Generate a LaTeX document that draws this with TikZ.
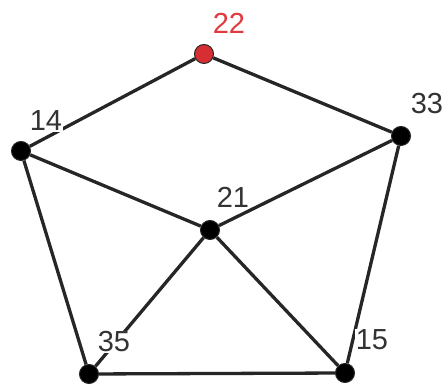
\documentclass[tikz,border=0pt]{standalone}
\usepackage{fontspec}
\setmainfont{Liberation Sans}
\usepackage{tikz}
\usetikzlibrary{positioning}
\definecolor{graphRed}{HTML}{D62E33}
\definecolor{labelRed}{HTML}{E0393E}
\definecolor{labelGray}{HTML}{333333}

\begin{document}
\begin{tikzpicture}[x=1pt, y=1pt,
    vertex/.style={circle, draw=black!85, fill=black, line width=1pt,
      minimum size=19pt, inner sep=0pt},
    edge/.style={line width=3.3pt, black!85},
    tag/.style={font=\fontsize{29}{29}\selectfont, text=labelGray,
      fill=white, inner sep=1pt}]
    \useasboundingbox (0,0) rectangle (448,385);
    % ---- vertices ----
    \node[vertex, fill=graphRed] (v22) at (204,331) {};
    \node[vertex] (v14) at (21,234) {};
    \node[vertex] (v33) at (401,249) {};
    \node[vertex] (v21) at (210,155) {};
    \node[vertex] (v35) at (89,11) {};
    \node[vertex] (v15) at (345,12) {};
    % ---- edges ----
    \foreach \a/\b in {22/14, 22/33, 14/21, 33/21, 14/35,
                       33/15, 21/35, 21/15, 35/15}
      \draw[edge] (v\a) -- (v\b);
    % ---- labels ----
    \node[tag, text=labelRed] (t22) at ([shift={(25,31)}]v22) {22};
    \node[tag] (t14) at ([shift={(25,30)}]v14) {14};
    \node[tag] (t33) at ([shift={(26,32)}]v33) {33};
    \node[tag] (t21) at ([shift={(23,33)}]v21) {21};
    \node[tag] (t35) at ([shift={(25,32)}]v35) {35};
    \node[tag] (t15) at ([shift={(27,33)}]v15) {15};
\end{tikzpicture}
\end{document}
